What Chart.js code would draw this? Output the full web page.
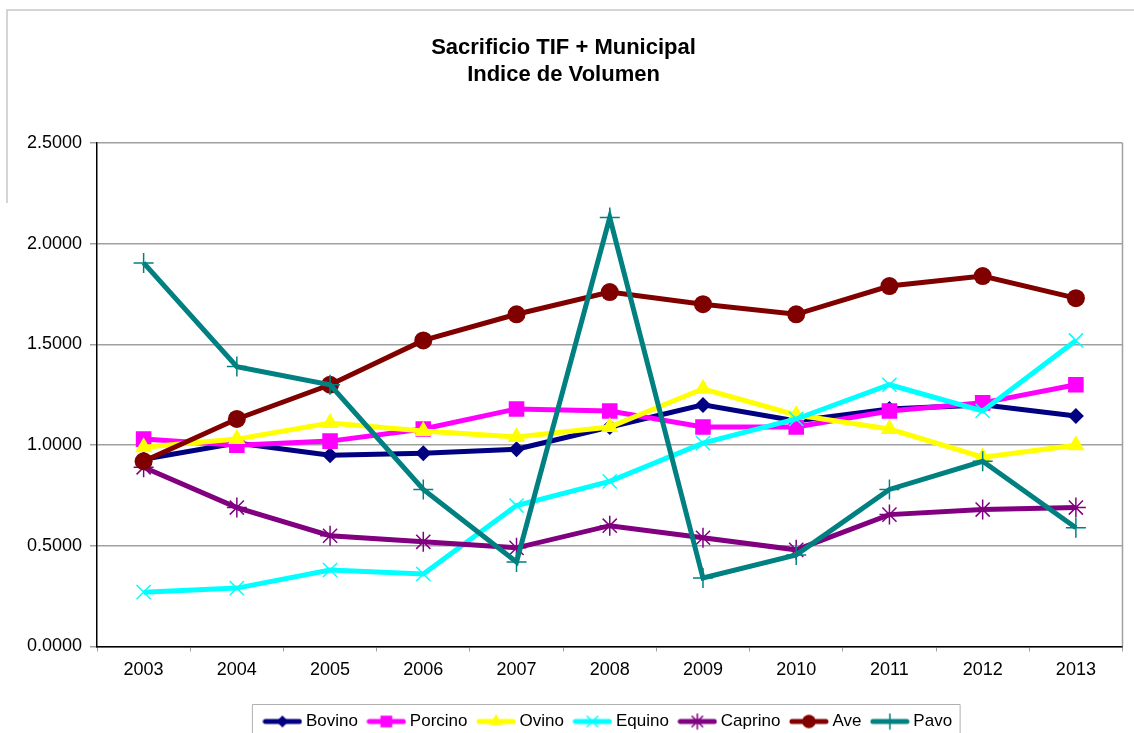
<!DOCTYPE html>
<html>
<head>
<meta charset="utf-8">
<script src="https://cdn.jsdelivr.net/npm/chart.js@4/dist/chart.umd.min.js"></script>
<style>
  html, body { margin: 0; padding: 0; background: #fff; }
</style>
</head>
<body>
<canvas id="chart" width="1134" height="733"></canvas>
<script>
// categories and series
const years = ['2003', '2004', '2005', '2006', '2007', '2008', '2009', '2010', '2011', '2012', '2013'];
const bovino  = [0.93, 1.01, 0.95, 0.96, 0.98, 1.09, 1.20, 1.12, 1.18, 1.20, 1.145];
const porcino = [1.03, 1.00, 1.02, 1.08, 1.18, 1.17, 1.09, 1.09, 1.17, 1.21, 1.30];
const ovino   = [0.99, 1.03, 1.11, 1.07, 1.04, 1.09, 1.28, 1.15, 1.08, 0.94, 1.00];
const equino  = [0.27, 0.29, 0.38, 0.36, 0.70, 0.82, 1.01, 1.13, 1.30, 1.17, 1.52];
const caprino = [0.89, 0.69, 0.55, 0.52, 0.49, 0.60, 0.54, 0.48, 0.655, 0.68, 0.69];
const ave     = [0.92, 1.13, 1.30, 1.52, 1.65, 1.76, 1.70, 1.65, 1.79, 1.84, 1.73];
const pavo    = [1.905, 1.39, 1.30, 0.78, 0.42, 2.13, 0.34, 0.455, 0.78, 0.92, 0.59];

const titleLines = ['Sacrificio TIF + Municipal', 'Indice de Volumen'];

Chart.defaults.font.family = '"Liberation Sans", Arial, sans-serif';
Chart.defaults.color = '#000';

// one series; later series are drawn on top, like the original
function series(label, data, color, style, radius, i) {
  return {
    label: label,
    data: data,
    borderColor: color,
    backgroundColor: color,
    borderWidth: 5,
    pointStyle: style,
    pointRadius: radius,
    pointHoverRadius: radius,
    pointBackgroundColor: color,
    pointBorderColor: color,
    pointBorderWidth: (style === 'cross' || style === 'crossRot' || style === 'star') ? 1.5 : 0,
    tension: 0,
    order: 10 - i
  };
}

const datasets = [
  series('Bovino', bovino, '#000080', 'rectRot', 8, 0),
  series('Porcino', porcino, '#FF00FF', 'rect', 11, 1),
  series('Ovino', ovino, '#FFFF00', 'triangle', 10, 2),
  series('Equino', equino, '#00FFFF', 'crossRot', 10, 3),
  series('Caprino', caprino, '#800080', 'star', 10, 4),
  series('Ave', ave, '#800000', 'circle', 9, 5),
  series('Pavo', pavo, '#008080', 'cross', 10, 6)
];

// small line + marker picture for the legend
function legendImage(ds) {
  const c = document.createElement('canvas');
  c.width = 40; c.height = 18;
  const ctx = c.getContext('2d');
  ctx.strokeStyle = ds.borderColor;
  ctx.lineWidth = 5;
  ctx.lineCap = 'round';
  ctx.beginPath(); ctx.moveTo(3, 9); ctx.lineTo(37, 9); ctx.stroke();
  ctx.fillStyle = ds.pointBackgroundColor;
  ctx.strokeStyle = ds.pointBorderColor;
  ctx.lineWidth = ds.pointBorderWidth;
  if (Chart.helpers && Chart.helpers.drawPoint) {
    Chart.helpers.drawPoint(ctx, {
      pointStyle: ds.pointStyle, radius: ds.pointRadius * 0.75,
      rotation: 0, borderWidth: ds.pointBorderWidth
    }, 20, 9);
  }
  return c;
}

// frame bits and the legend box
const framePlugin = {
  id: 'framePlugin',
  beforeDatasetsDraw(chart) {
    const a = chart.chartArea, ctx = chart.ctx;
    ctx.save();
    ctx.strokeStyle = '#a0a0a0';
    ctx.lineWidth = 1.5;
    ctx.beginPath();
    ctx.moveTo(a.right, a.top);
    ctx.lineTo(a.right, a.bottom);
    ctx.stroke();
    ctx.restore();
  },
  afterDraw(chart) {
    const ctx = chart.ctx;
    ctx.save();
    ctx.strokeStyle = '#c8c8c8';
    ctx.lineWidth = 1.5;
    ctx.beginPath();
    ctx.moveTo(7, 203);
    ctx.lineTo(7, 10);
    ctx.lineTo(1134, 10);
    ctx.stroke();
    const hb = chart.legend.legendHitBoxes;
    if (hb && hb.length) {
      const left = hb[0].left - 15;
      const last = hb[hb.length - 1];
      const right = last.left + last.width + 8;
      const top = hb[0].top + hb[0].height / 2 - 17;
      ctx.strokeStyle = '#b0b0b0';
      ctx.lineWidth = 1;
      ctx.beginPath();
      ctx.moveTo(left, 733);
      ctx.lineTo(left, top);
      ctx.lineTo(right, top);
      ctx.lineTo(right, 733);
      ctx.stroke();
    }
    ctx.restore();
  }
};

new Chart(document.getElementById('chart'), {
  type: 'line',
  data: { labels: years, datasets: datasets },
  options: {
    responsive: false,
    animation: false,
    layout: { padding: { left: 0, right: 7, top: 0, bottom: -7 } },
    plugins: {
      title: {
        display: true,
        text: titleLines,
        color: '#000',
        font: { size: 22, weight: 'bold', lineHeight: 1.23 },
        padding: { top: 34, bottom: 55 }
      },
      legend: {
        position: 'bottom',
        fullSize: false,
        labels: {
          usePointStyle: true,
          pointStyleWidth: 30,
          boxHeight: 17,
          padding: 13.5,
          color: '#000',
          font: { size: 17 },
          generateLabels(chart) {
            return chart.data.datasets.map((ds, i) => ({
              text: ds.label,
              pointStyle: legendImage(ds),
              fillStyle: ds.borderColor,
              strokeStyle: ds.borderColor,
              lineWidth: 0,
              fontColor: '#000',
              hidden: false,
              datasetIndex: i
            }));
          }
        }
      },
      tooltip: { enabled: false }
    },
    scales: {
      x: {
        offset: true,
        afterFit(scale) { scale.height = 53; },
        grid: { display: true, drawOnChartArea: false, offset: true, tickLength: 5, color: '#a0a0a0' },
        border: { color: '#000', width: 1.5 },
        ticks: { font: { size: 18 }, color: '#000', padding: 8, maxRotation: 0 }
      },
      y: {
        min: 0,
        max: 2.5,
        afterFit(scale) { scale.width = 97; },
        grid: { color: '#a0a0a0', lineWidth: 1.5, tickLength: 7, drawTicks: true },
        border: { color: '#000', width: 1.5 },
        ticks: {
          stepSize: 0.5,
          font: { size: 18 },
          color: '#000',
          padding: 8,
          callback: v => Number(v).toFixed(4)
        }
      }
    }
  },
  plugins: [framePlugin]
});
</script>
</body>
</html>
